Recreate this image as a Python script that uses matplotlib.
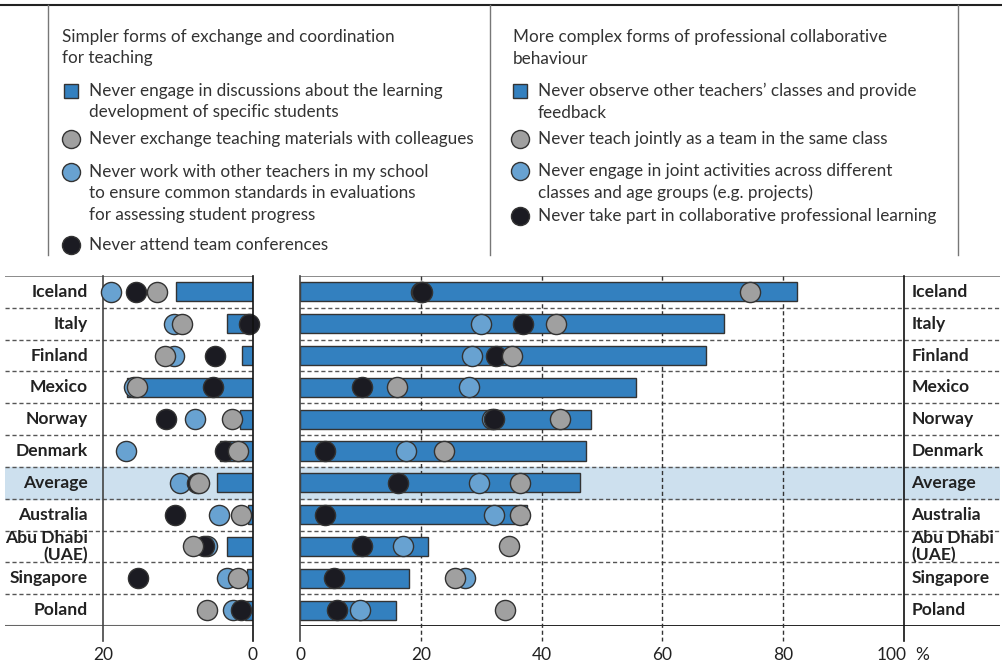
import matplotlib.pyplot as plt
import numpy as np

plt.rcParams['font.family'] = ['Lato', 'DejaVu Sans']

# rows, top to bottom
countries = ['Iceland', 'Italy', 'Finland', 'Mexico', 'Norway', 'Denmark',
             'Average', 'Australia', 'Abu Dhabi\n(UAE)', 'Singapore', 'Poland']

# simpler forms (left panel), % of teachers
simple_discuss = [10.3, 3.5, 1.4, 16.8, 1.7, 4.4, 4.8, 0.6, 3.4, 0.8, 1.0]
simple_materials = [12.8, 9.5, 11.8, 15.5, 2.8, 2.0, 7.2, 1.6, 8.0, 2.0, 6.1]
simple_standards = [19.0, 10.6, 10.5, 15.9, 7.7, 16.9, 9.7, 4.6, 6.1, 3.5, 2.6]
simple_conferences = [15.6, 0.5, 5.1, 5.3, 11.6, 3.7, 7.5, 10.4, 6.5, 15.3, 1.6]

# more complex forms (right panel)
complex_observe = [82.3, 70.2, 67.3, 55.7, 48.2, 47.4, 46.4, 37.6, 21.2, 18.1, 15.9]
complex_teach = [74.5, 42.4, 35.1, 16.1, 43.0, 23.8, 36.5, 36.4, 34.6, 25.6, 33.9]
complex_joint = [20.0, 30.0, 28.4, 27.9, 31.8, 17.5, 29.6, 32.2, 17.0, 27.4, 10.0]
complex_learning = [20.2, 37.0, 32.4, 10.3, 32.2, 4.2, 16.3, 4.2, 10.3, 5.7, 6.1]

left_ticks = [20, 0]
right_ticks = [0, 20, 40, 60, 80, 100]

legend_left_head = ['Simpler forms of exchange and coordination', 'for teaching']
legend_left = [
    ['Never engage in discussions about the learning', 'development of specific students'],
    ['Never exchange teaching materials with colleagues'],
    ['Never work with other teachers in my school',
     'to ensure common standards in evaluations',
     'for assessing student progress'],
    ['Never attend team conferences'],
]
legend_right_head = ['More complex forms of professional collaborative', 'behaviour']
legend_right = [
    ['Never observe other teachers\u2019 classes and provide', 'feedback'],
    ['Never teach jointly as a team in the same class'],
    ['Never engage in joint activities across different',
     'classes and age groups (e.g. projects)'],
    ['Never take part in collaborative professional learning'],
]

BAR = '#3380bf'
GRAY = '#a0a0a0'
LBLUE = '#68a2d1'
BLACK = '#1b1b22'
BAND = '#cde0ee'
EDGE = '#333333'
TXT = '#222222'

W, H = 1003, 665
fig = plt.figure(figsize=(W / 100, H / 100), dpi=100)


def fx(px):
    return px / W


def fy(py):
    return 1 - py / H


top_px, bot_px = 276, 626
n = len(countries)
y = np.arange(n)

axL = fig.add_axes([fx(5), fy(bot_px), fx(248), (bot_px - top_px) / H])
axR = fig.add_axes([fx(300), fy(bot_px), fx(700), (bot_px - top_px) / H])
axL.set_xlim((253 - 5) / 7.5, 0)
axR.set_xlim(0, 700 / 6.04)
ext = 15 / 31.8  # tick stub below the axis, in row units

for ax in (axL, axR):
    ax.set_ylim(n - 0.5, -0.5)
    ax.axis('off')
    ax.axhspan(5.5, 6.5, color=BAND, zorder=0)
    for b in np.arange(0.5, n - 1, 1):
        ax.axhline(b, color='#555555', lw=1, ls=(0, (3, 2)), zorder=1)
    ax.axhline(-0.5, color='#777777', lw=1.2, zorder=1)

axL.axhline(n - 0.5, color='#666666', lw=1.5, zorder=1)
axR.axhline(n - 0.5, color='#111111', lw=2, zorder=1)

# vertical lines / ticks
axL.plot([20, 20], [-0.5, n - 0.5 + ext], color='#444444', lw=1.2, clip_on=False, zorder=1)
axL.plot([0, 0], [-0.5, n - 0.5 + ext], color='#111111', lw=1.2, clip_on=False, zorder=5)
axR.plot([0, 0], [-0.5, n - 0.5 + ext], color='#444444', lw=1.2, clip_on=False, zorder=5)
axR.plot([100, 100], [-0.5, n - 0.5 + ext], color='#111111', lw=1.2, clip_on=False, zorder=5)
for t in right_ticks[1:-1]:
    axR.plot([t, t], [-0.5, n - 0.5 + ext], color='#333333', lw=1, ls=(0, (3, 2)),
             clip_on=False, zorder=1)

# bars
axL.barh(y, simple_discuss, height=0.6, color=BAR, edgecolor=EDGE, lw=1, zorder=2)
axR.barh(y, complex_observe, height=0.6, color=BAR, edgecolor=EDGE, lw=1, zorder=2)

mk = dict(marker='o', ms=14.5, mec=EDGE, mew=1, ls='none', clip_on=False)
axL.plot(simple_standards, y, mfc=LBLUE, zorder=3, **mk)
axL.plot(simple_conferences, y, mfc=BLACK, zorder=4, **mk)
axL.plot(simple_materials, y, mfc=GRAY, zorder=4.5, **mk)
axR.plot(complex_joint, y, mfc=LBLUE, zorder=3, **mk)
axR.plot(complex_learning, y, mfc=BLACK, zorder=4, **mk)
axR.plot(complex_teach, y, mfc=GRAY, zorder=4.5, **mk)

# row labels
lab = dict(fontsize=12.6, fontweight='bold', color=TXT, va='center')
for i, c in enumerate(countries):
    parts = c.split('\n')
    offs = [0] if len(parts) == 1 else [-0.27, 0.27]
    for p, o in zip(parts, offs):
        axL.text(22, i + o, p, ha='right', **lab)
        axR.text(101.2, i + o, p, ha='left', **lab)

# tick labels
tick_y = n - 0.5 + 29 / 31.8
for t in left_ticks:
    axL.text(t, tick_y, str(t), ha='center', va='center', fontsize=12.5, color=TXT)
for t in right_ticks[:-1]:
    axR.text(t, tick_y, str(t), ha='center', va='center', fontsize=12.5, color=TXT)
axR.text(100.4, tick_y, str(right_ticks[-1]), ha='right', va='center', fontsize=12.5, color=TXT)
axR.text(101.8, tick_y, '%', ha='left', va='center', fontsize=12.5, color=TXT)

# legend box
fig.add_artist(plt.Line2D([0, 1], [fy(5), fy(5)], color='#222222', lw=1.5))
for xp in (48, 490, 958):
    fig.add_artist(plt.Line2D([fx(xp), fx(xp)], [fy(5), fy(255)], color='#777777', lw=1))

ls_px = 21.5
styles = [dict(marker='s', ms=10.5, mfc=BAR), dict(marker='o', ms=13, mfc=GRAY),
          dict(marker='o', ms=13, mfc=LBLUE), dict(marker='o', ms=13, mfc=BLACK)]


def legend_column(x_head, x_mark, x_text, head, items, starts):
    for k, line in enumerate(head):
        fig.text(fx(x_head), fy(37 + k * ls_px), line, ha='left', va='center',
                 fontsize=12.3, color='#333333')
    for st, lines, s0 in zip(styles, items, starts):
        fig.add_artist(plt.Line2D([fx(x_mark)], [fy(s0)], ls='none', mec=EDGE, mew=1, **st))
        for k, line in enumerate(lines):
            fig.text(fx(x_text), fy(s0 + k * ls_px), line, ha='left', va='center',
                     fontsize=12.3, color='#333333')


legend_column(62, 71, 89, legend_left_head, legend_left, [91, 139, 172, 245])
legend_column(513, 520, 538, legend_right_head, legend_right, [91, 139, 171, 216])

fig.savefig('out.png', dpi=100)
